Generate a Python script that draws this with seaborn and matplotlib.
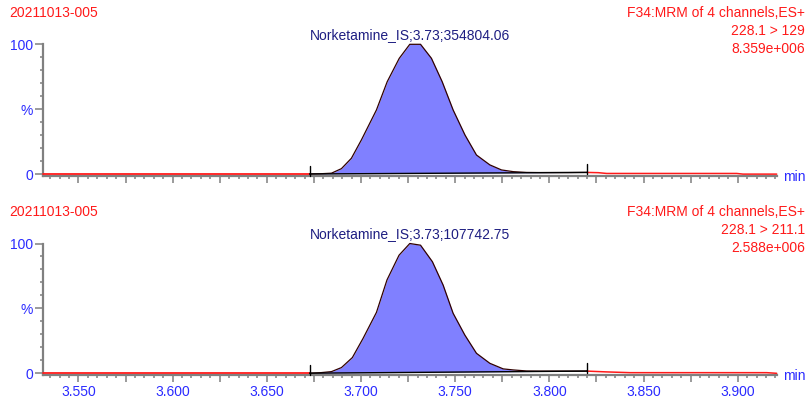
import numpy as np
import pandas as pd
import matplotlib
matplotlib.use("Agg")
import matplotlib.pyplot as plt
from matplotlib.ticker import MultipleLocator, FixedLocator, FuncFormatter
import seaborn as sns

# ---------------- data ----------------
sample_name = "20211013-005"
function_title = "F34:MRM of 4 channels,ES+"
transitions = ["228.1 > 129", "228.1 > 211.1"]
max_intensity = ["8.359e+006", "2.588e+006"]
peak_labels = ["Norketamine_IS;3.73;354804.06", "Norketamine_IS;3.73;107742.75"]

x_range = [3.531, 3.9207]
integration_start = 3.6727
integration_end = 3.8199

time_top = [3.531, 3.560, 3.600, 3.640, 3.6727, 3.6786, 3.6843, 3.6896, 3.6949, 3.7002,
            3.7082, 3.7139, 3.7203, 3.7259, 3.7316, 3.7374, 3.7431, 3.7489, 3.7552,
            3.7613, 3.7684, 3.7746, 3.7808, 3.7879, 3.7950, 3.8100, 3.8199, 3.8260,
            3.8304, 3.8600, 3.8995, 3.9028, 3.9207]
inten_top = [0.2, 0.2, 0.2, 0.2, 0.2, 0.4, 0.8, 4.3, 12.3, 26.4,
             49.5, 71.2, 89.2, 100.0, 100.0, 89.2, 71.2, 49.5, 30.2,
             14.8, 7.2, 3.3, 2.0, 1.4, 1.3, 1.3, 1.4, 1.2,
             0.6, 0.6, 0.6, 0.1, 0.1]

time_bot = [3.531, 3.560, 3.600, 3.640, 3.6727, 3.6786, 3.6843, 3.6896, 3.6954, 3.7011,
            3.7082, 3.7138, 3.7202, 3.7259, 3.7316, 3.7379, 3.7436, 3.7489, 3.7551,
            3.7613, 3.7684, 3.7755, 3.7808, 3.7879, 3.7950, 3.8100, 3.8199, 3.8300,
            3.8428, 3.8800, 3.9154, 3.9207]
inten_bot = [0.2, 0.2, 0.2, 0.2, 0.2, 0.6, 1.4, 4.5, 12.2, 27.0,
             47.0, 72.0, 91.0, 100.0, 98.7, 86.0, 68.0, 46.3, 29.6,
             15.5, 7.8, 3.5, 2.7, 1.9, 1.8, 1.8, 1.8, 1.2,
             0.6, 0.6, 0.6, 0.1]

# ---------------- style ----------------
sns.set_style("white")
plt.rcParams['font.family'] = ['Liberation Sans', 'DejaVu Sans']

W, H = 808, 398
fig = plt.figure(figsize=(W / 100, H / 100), dpi=100)

RED = "#FF1A1A"
BLUE = "#2B2BFF"
NAVY = "#1E1E82"
GRAY = "#808080"
FILL = "#8080FF"
FS = 10

def px(x, y):
    return x / W, 1 - y / H

panels = [
    dict(t=time_top, v=inten_top, top=44.3, bottom=175.8, label=peak_labels[0],
         trans=transitions[0], mx=max_intensity[0], hdr=13.0, xlabels=False),
    dict(t=time_bot, v=inten_bot, top=243.5, bottom=375.0, label=peak_labels[1],
         trans=transitions[1], mx=max_intensity[1], hdr=212.0, xlabels=True),
]

left_px, right_px = 42.7, 776.7
ymin = -1.2

for p in panels:
    ax = fig.add_axes([left_px / W, 1 - p['bottom'] / H,
                       (right_px - left_px) / W, (p['bottom'] - p['top']) / H])
    df = pd.DataFrame({"time": p['t'], "intensity": p['v']})
    t = df["time"].to_numpy()
    v = df["intensity"].to_numpy()

    inside = (df["time"] >= integration_start - 1e-9) & (df["time"] <= integration_end + 1e-9)
    before = df[df["time"] <= integration_start + 1e-9]
    after = df[df["time"] >= integration_end - 1e-9]
    peak = df[inside]

    # integration baseline
    b0 = np.interp(integration_start, t, v)
    b1 = np.interp(integration_end, t, v)
    pt = peak["time"].to_numpy()
    pv = peak["intensity"].to_numpy()
    base = b0 + (b1 - b0) * (pt - integration_start) / (integration_end - integration_start)
    ax.fill_between(pt, base, pv, color=FILL, linewidth=0, zorder=2)

    sns.lineplot(data=before, x="time", y="intensity", ax=ax, color=RED,
                 linewidth=1.3, estimator=None, sort=False, zorder=3, clip_on=False)
    sns.lineplot(data=after, x="time", y="intensity", ax=ax, color=RED,
                 linewidth=1.1, estimator=None, sort=False, zorder=3, clip_on=False)
    sns.lineplot(data=peak, x="time", y="intensity", ax=ax, color="#300000",
                 linewidth=0.9, estimator=None, sort=False, zorder=4, clip_on=False)
    ax.plot([integration_start, integration_end], [b0, b1], color="black",
            linewidth=1.0, zorder=4, clip_on=False)
    for tx, bv in [(integration_start, b0), (integration_end, b1)]:
        ax.plot([tx, tx], [bv - 1.3, bv + 6.5], color="black", linewidth=1.0,
                zorder=5, clip_on=False)

    ax.set_xlim(*x_range)
    ax.set_ylim(ymin, 100)
    ax.set_xlabel("")
    ax.set_ylabel("")

    for s in ["top", "right"]:
        ax.spines[s].set_visible(False)
    for s in ["left", "bottom"]:
        ax.spines[s].set_color(GRAY)
        ax.spines[s].set_linewidth(1.6)
    ax.spines["left"].set_bounds(ymin, 100)

    ax.xaxis.set_major_locator(MultipleLocator(0.025))
    ax.xaxis.set_minor_locator(MultipleLocator(0.005))
    if p['xlabels']:
        ax.xaxis.set_major_formatter(FuncFormatter(
            lambda x, pos: ("%.3f" % x) if abs(round(x / 0.05) * 0.05 - x) < 1e-6 else ""))
    else:
        ax.xaxis.set_major_formatter(FuncFormatter(lambda x, pos: ""))
    ax.yaxis.set_major_locator(FixedLocator([0, 50, 100]))
    ax.yaxis.set_minor_locator(FixedLocator([10, 20, 30, 40, 60, 70, 80, 90]))
    ax.set_yticklabels(["0", "%", "100"])

    ax.tick_params(axis="x", which="both", bottom=True, top=False)
    ax.tick_params(axis="y", which="both", left=True, right=False)
    ax.tick_params(axis="x", which="major", direction="out", length=5, width=1.1,
                   color=GRAY, labelcolor=BLUE, labelsize=FS, pad=2)
    ax.tick_params(axis="x", which="minor", direction="out", length=2.5, width=1.1,
                   color=GRAY)
    ax.tick_params(axis="y", which="major", direction="out", length=6, width=1.1,
                   color=GRAY, labelcolor=BLUE, labelsize=FS, pad=1)
    ax.tick_params(axis="y", which="minor", direction="out", length=2.5, width=1.1,
                   color=GRAY)
    ax.patch.set_alpha(0)

    # peak annotation at apex
    apex_t = t[int(np.argmax(v))]
    ax.annotate(p['label'], xy=(apex_t, 100), xytext=(0, 6.8), textcoords="offset points",
                ha="center", va="center", color=NAVY, fontsize=FS)

    # headers
    y0 = p['hdr']
    fig.text(*px(9, y0), sample_name, color=RED, fontsize=FS, ha="left", va="center")
    fig.text(*px(805, y0), function_title, color=RED, fontsize=FS, ha="right", va="center")
    fig.text(*px(805, y0 + 18), p['trans'], color=RED, fontsize=FS, ha="right", va="center")
    fig.text(*px(805, y0 + 36), p['mx'], color=RED, fontsize=FS, ha="right", va="center")
    fig.text(*px(783, p['bottom'] + 1.5), "min", color=BLUE, fontsize=FS, ha="left", va="center")

fig.savefig("out.png", dpi=100)
